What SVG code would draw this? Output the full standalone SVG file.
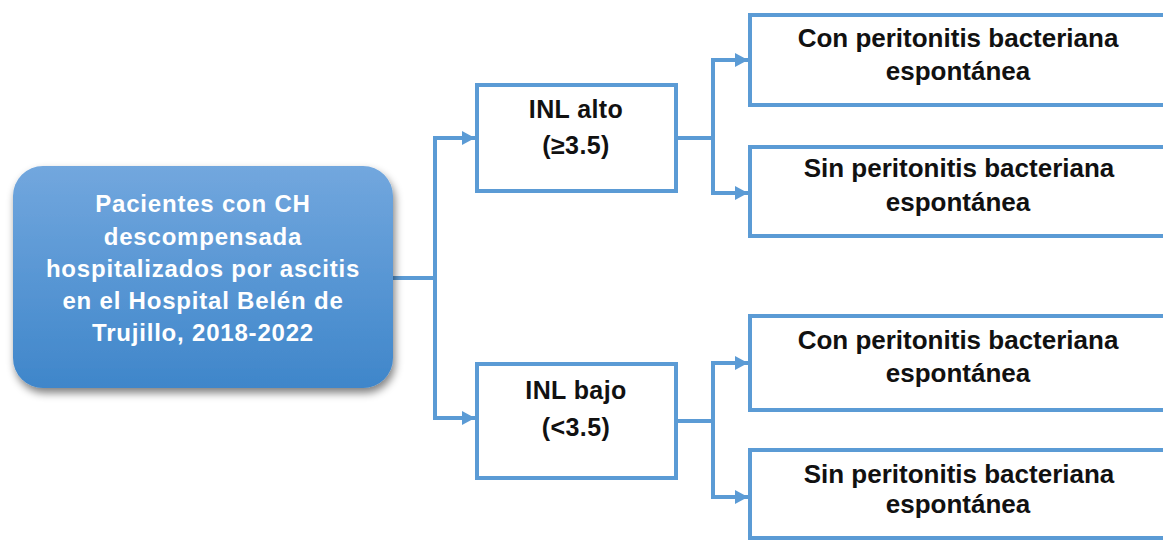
<svg xmlns="http://www.w3.org/2000/svg" width="1163" height="542" viewBox="0 0 1163 542">
  <defs>
    <linearGradient id="mainGrad" x1="0" y1="0" x2="0" y2="1">
      <stop offset="0" stop-color="#72a7de"/>
      <stop offset="1" stop-color="#3f86ca"/>
    </linearGradient>
    <filter id="shadow" x="-10%" y="-10%" width="125%" height="130%">
      <feGaussianBlur in="SourceAlpha" stdDeviation="4"/>
      <feOffset dx="2" dy="5" result="b"/>
      <feComponentTransfer><feFuncA type="linear" slope="0.5"/></feComponentTransfer>
      <feMerge><feMergeNode/><feMergeNode in="SourceGraphic"/></feMerge>
    </filter>
    <marker id="arr" markerUnits="userSpaceOnUse" markerWidth="16" markerHeight="16" refX="13" refY="8" orient="auto">
      <path d="M0,1 L13,8 L0,15 z" fill="#5b9bd5"/>
    </marker>
  </defs>
  <style>
    .box { fill: #ffffff; stroke: #5b9bd5; stroke-width: 4; }
    .conn { fill: none; stroke: #5b9bd5; stroke-width: 4; }
    .mainTxt { font-family: "Liberation Sans", Arial, sans-serif; font-weight: bold; font-size: 24px; fill: #ffffff; letter-spacing: 0.8px; text-anchor: middle; }
    .midTxt { font-family: "Liberation Sans", Arial, sans-serif; font-weight: bold; font-size: 25px; fill: #111111; letter-spacing: 0.4px; text-anchor: middle; }
    .outTxt { font-family: "Liberation Sans", Arial, sans-serif; font-weight: bold; font-size: 26px; fill: #111111; text-anchor: middle; }
  </style>
  <rect width="1163" height="542" fill="#ffffff"/>

  <g id="connectors">
    <path class="conn" d="M393,278 H435"/>
    <path class="conn" d="M435,138 V418"/>
    <path class="conn" d="M433,138 H475" marker-end="url(#arr)"/>
    <path class="conn" d="M433,418 H475" marker-end="url(#arr)"/>
    <path class="conn" d="M678,138 H713"/>
    <path class="conn" d="M713,60 V193"/>
    <path class="conn" d="M711,60 H748" marker-end="url(#arr)"/>
    <path class="conn" d="M711,193 H748" marker-end="url(#arr)"/>
    <path class="conn" d="M678,421 H713"/>
    <path class="conn" d="M713,363 V497"/>
    <path class="conn" d="M711,363 H748" marker-end="url(#arr)"/>
    <path class="conn" d="M711,497 H748" marker-end="url(#arr)"/>
  </g>

  <g id="node-main">
    <rect x="13" y="166" width="380" height="222" rx="30" ry="30" fill="url(#mainGrad)" filter="url(#shadow)"/>
    <text class="mainTxt" x="203" y="212">Pacientes con CH</text>
    <text class="mainTxt" x="203" y="245">descompensada</text>
    <text class="mainTxt" x="203" y="277">hospitalizados por ascitis</text>
    <text class="mainTxt" x="203" y="309">en el Hospital Belén de</text>
    <text class="mainTxt" x="203" y="341">Trujillo, 2018-2022</text>
  </g>

  <g id="node-inl-alto">
    <rect class="box" x="477" y="85" width="199" height="106"/>
    <text class="midTxt" x="576" y="118">INL alto</text>
    <text class="midTxt" x="576" y="154">(≥3.5)</text>
  </g>

  <g id="node-inl-bajo">
    <rect class="box" x="477" y="364" width="199" height="114"/>
    <text class="midTxt" x="576" y="399">INL bajo</text>
    <text class="midTxt" x="576" y="436">(&lt;3.5)</text>
  </g>

  <g id="node-alto-con">
    <rect class="box" x="750" y="15" width="430" height="90"/>
    <text class="outTxt" x="958" y="47">Con peritonitis bacteriana</text>
    <text class="outTxt" x="958" y="80">espontánea</text>
  </g>

  <g id="node-alto-sin">
    <rect class="box" x="750" y="147" width="430" height="89"/>
    <text class="outTxt" x="959" y="177">Sin peritonitis bacteriana</text>
    <text class="outTxt" x="958" y="211">espontánea</text>
  </g>

  <g id="node-bajo-con">
    <rect class="box" x="750" y="316" width="430" height="94"/>
    <text class="outTxt" x="958" y="349">Con peritonitis bacteriana</text>
    <text class="outTxt" x="958" y="382">espontánea</text>
  </g>

  <g id="node-bajo-sin">
    <rect class="box" x="750" y="450" width="430" height="88"/>
    <text class="outTxt" x="959" y="483">Sin peritonitis bacteriana</text>
    <text class="outTxt" x="958" y="513">espontánea</text>
  </g>
</svg>
